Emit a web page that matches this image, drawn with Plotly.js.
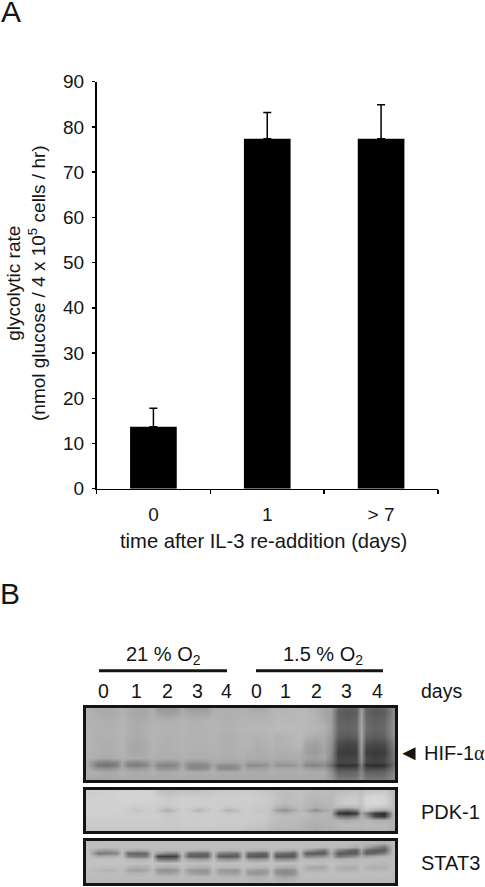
<!DOCTYPE html>
<html>
<head>
<meta charset="utf-8">
<script src="https://cdn.plot.ly/plotly-3.0.1.min.js"></script>
<style>html,body{margin:0;padding:0;background:#fff;}#chart{width:485px;height:887px;}</style>
</head>
<body>
<div id="chart"></div>
<script>
// Panel A values
const timeCategories = ['0', '1', '> 7'];
const glycolyticRate = [13.7, 77.4, 77.4];
const rateErrorUp = [4.1, 5.8, 7.5];
const yTickValues = [0, 10, 20, 30, 40, 50, 60, 70, 80, 90];

// Panel B labels
const laneLabels = ['0', '1', '2', '3', '4', '0', '1', '2', '3', '4'];
const laneLabelPos = [103, 136, 167, 197, 226, 256, 285, 316, 346, 377];

// Panel B blot: position along the gel for each sampled column
const gelColumns = [88, 98,107,116,122, 128,137,146,152, 158,167,176,182, 189,198,207,213, 219,228,237,243,
  248,257,266,271, 276,285,294,300, 306,315,324,331, 338,347,356,361, 366,375,384,393];

// Grey levels (0-255) read from the blots
const hifRows = [707, 712, 720, 728, 736, 744, 752, 758, 762, 765, 768, 772, 776, 781];
const hifGrey = [
 [176, 172,170,172,178, 172,168,170,176, 150,146,150,168, 152,150,156,172, 176,174,174,178, 172,165,170,178, 180,180,182,186, 182,176,166,165, 105,95,100,160, 105,95,100,135],
 [178, 172,170,172,178, 172,166,168,176, 160,158,160,172, 165,163,165,176, 176,175,176,178, 176,174,176,180, 182,182,184,186, 184,178,165,160, 95,90,92,160, 98,88,92,135],
 [178, 176,174,176,180, 174,170,172,178, 176,174,176,180, 176,176,178,180, 178,176,178,180, 180,180,180,182, 184,184,184,186, 184,180,170,158, 100,95,100,165, 105,95,100,140],
 [180, 178,176,178,182, 176,172,176,180, 180,178,178,182, 178,178,180,182, 180,178,180,182, 182,182,184,184, 186,186,186,186, 184,182,178,160, 105,100,105,168, 110,100,105,145],
 [180, 176,176,178,182, 176,170,174,180, 178,176,178,180, 178,178,178,180, 176,174,176,180, 180,178,180,184, 176,180,184,186, 178,172,172,155, 95,90,95,165, 100,92,98,140],
 [180, 176,172,176,182, 170,166,170,180, 178,176,178,180, 178,178,178,180, 178,176,178,180, 180,174,178,182, 176,178,182,184, 165,158,168,145, 75,68,72,160, 78,70,75,125],
 [178, 176,174,176,180, 172,168,172,178, 176,174,176,178, 176,176,176,178, 176,174,176,178, 176,172,174,176, 174,174,176,176, 160,155,165,140, 62,58,62,155, 62,58,60,115],
 [176, 172,170,172,176, 174,172,172,176, 174,172,174,176, 174,174,174,176, 174,172,174,176, 172,172,172,174, 172,172,172,172, 165,160,168,135, 70,70,72,150, 72,62,70,115],
 [168, 130,128,135,168, 140,138,145,168, 152,148,152,170, 152,150,155,170, 168,165,165,172, 158,158,162,170, 160,160,165,170, 148,148,152,125, 70,70,72,140, 70,65,70,110],
 [164, 118,115,125,164, 128,125,135,164, 135,130,138,166, 135,132,138,166, 140,138,145,168, 140,138,145,166, 148,145,150,166, 135,132,140,110, 50,48,52,125, 48,45,50,105],
 [172, 145,140,150,170, 155,150,158,172, 148,142,150,172, 138,135,142,172, 138,134,142,172, 158,158,162,172, 168,165,168,172, 158,154,158,130, 75,72,76,125, 72,70,74,115],
 [176, 172,170,172,178, 172,170,172,176, 170,170,172,176, 172,172,172,176, 172,172,172,176, 172,170,172,176, 172,172,172,176, 172,170,172,145, 100,100,105,135, 100,98,100,130],
 [172, 170,168,170,174, 170,170,170,174, 170,170,170,174, 170,170,170,174, 170,170,170,172, 170,170,170,172, 170,170,170,172, 170,170,170,150, 112,110,112,140, 110,108,110,135],
 [165, 160,165,168,170, 172,172,172,172, 172,172,172,172, 172,172,172,172, 172,172,172,172, 172,172,172,172, 172,172,172,172, 172,172,172,160, 135,130,132,150, 130,128,130,140]
];

const pdkRows = [791, 797, 803, 807, 810, 813, 816, 820, 825, 830];
const pdkGrey = [
 [205, 205,206,208,210, 210,212,212,208, 195,188,190,195, 192,192,196,200, 200,202,202,204, 204,200,196,196, 192,188,192,192, 190,186,188,185, 188,190,192,190, 196,200,200,185],
 [207, 208,208,210,212, 212,212,210,210, 206,200,202,205, 204,204,204,206, 205,205,205,206, 206,204,202,200, 196,188,190,192, 186,184,186,185, 196,200,202,195, 212,214,212,190],
 [208, 208,208,208,210, 210,208,208,208, 205,204,205,208, 206,206,206,206, 204,205,205,205, 205,203,202,198, 192,186,190,190, 184,180,184,184, 198,204,204,195, 214,216,212,190],
 [208, 208,208,208,208, 206,203,206,206, 202,195,202,206, 205,198,203,206, 204,198,202,204, 204,200,200,196, 180,170,182,188, 182,172,180,182, 185,180,185,190, 206,200,198,188],
 [207, 207,207,208,208, 205,195,203,205, 195,175,195,205, 202,180,195,205, 198,178,190,202, 203,195,198,192, 162,145,170,186, 172,140,165,176, 120,105,125,180, 196,170,160,185],
 [207, 207,207,207,207, 205,203,205,205, 202,195,202,205, 204,200,203,205, 203,198,200,203, 203,200,200,194, 182,175,185,188, 186,175,182,178, 55,40,60,165, 130,60,45,175],
 [205, 206,206,206,206, 205,205,205,205, 205,200,203,205, 205,203,205,205, 203,203,203,204, 203,202,200,194, 190,188,188,188, 186,180,182,176, 120,105,125,175, 150,70,55,178],
 [203, 204,205,205,205, 204,204,204,204, 203,200,202,204, 204,203,204,204, 203,203,203,203, 202,200,198,192, 188,186,186,184, 182,178,180,178, 178,168,178,180, 185,175,175,176],
 [202, 203,203,203,204, 202,202,202,203, 202,200,200,203, 203,203,203,203, 202,202,202,202, 200,198,196,190, 186,186,184,182, 178,172,178,178, 184,186,186,182, 186,185,186,178],
 [198, 198,198,198,198, 198,198,198,198, 196,196,196,198, 198,198,198,196, 196,196,196,194, 192,190,188,184, 182,182,180,178, 176,172,175,175, 178,180,180,178, 180,180,182,172]
];

const statRows = [843, 847, 850, 853, 856, 859, 863, 867, 870, 873, 877, 883];
const statGrey = [
 [190, 190,190,190,190, 190,190,190,190, 190,190,190,190, 190,190,190,190, 190,190,190,190, 190,190,190,190, 190,190,190,190, 188,188,188,188, 188,188,186,184, 182,180,174,188],
 [190, 190,188,188,190, 190,190,190,190, 190,190,190,190, 190,190,190,190, 190,190,190,190, 190,190,190,190, 190,190,190,190, 188,186,180,188, 182,180,167,182, 162,137,112,188],
 [190, 160,155,165,190, 172,167,170,190, 187,182,182,190, 182,177,177,190, 184,180,180,190, 180,174,172,190, 177,172,167,188, 157,137,117,182, 132,107,92,162, 107,92,92,186],
 [192, 120,125,135,190, 105,100,105,188, 152,135,130,190, 110,105,105,188, 128,120,115,188, 110,105,100,188, 115,110,100,186, 95,90,95,172, 92,90,92,152, 95,105,125,188],
 [192, 170,174,178,192, 130,120,120,190, 68,64,68,182, 95,90,95,188, 90,85,90,188, 90,85,90,188, 90,85,90,186, 130,135,145,180, 115,130,140,174, 160,170,178,188],
 [192, 192,192,192,194, 184,180,182,192, 125,115,125,186, 165,155,160,190, 155,145,155,190, 155,150,155,188, 145,140,150,188, 182,182,184,188, 180,182,184,186, 188,188,188,188],
 [194, 194,194,194,194, 194,192,192,194, 192,190,192,194, 192,192,192,194, 192,192,192,194, 192,192,192,192, 192,192,192,192, 192,190,188,192, 190,188,184,190, 188,186,182,188],
 [192, 190,188,190,192, 180,172,176,192, 178,172,178,192, 180,176,176,192, 184,182,182,192, 186,184,182,192, 178,172,172,192, 174,166,166,192, 174,170,174,190, 178,174,176,190],
 [190, 182,176,182,190, 165,158,165,188, 148,142,150,186, 152,150,148,188, 155,150,150,188, 160,155,155,188, 148,138,148,188, 178,174,178,190, 180,176,178,190, 184,182,182,188],
 [190, 188,187,188,190, 182,180,182,190, 165,160,166,188, 165,158,155,188, 165,160,160,188, 155,146,155,188, 148,135,145,188, 188,188,190,190, 190,188,190,190, 190,190,190,188],
 [188, 188,188,188,188, 188,188,188,188, 186,186,186,188, 186,186,186,188, 186,184,184,188, 180,176,180,188, 174,165,174,188, 188,188,188,188, 188,188,188,188, 188,188,188,186],
 [184, 184,184,184,184, 184,184,184,184, 184,184,184,184, 184,184,184,184, 184,184,184,184, 184,184,184,184, 184,184,184,184, 184,184,184,184, 184,184,184,184, 184,184,184,182]
];

const W = 485, H = 887;
const FONT = 'Liberation Sans, Arial, sans-serif';
const INK = '#151515';
const px = v => v / W;
const py = v => 1 - v / H;

const greyScale = [[0, '#000000'], [1, '#ffffff']];
function blot(rows, grey, n) {
  return {
    type: 'heatmap', x: gelColumns, y: rows, z: grey,
    xaxis: 'x' + n, yaxis: 'y' + n, zmin: 0, zmax: 255, zsmooth: 'best',
    colorscale: greyScale, showscale: false, hoverinfo: 'skip'
  };
}

const traces = [
  {
    type: 'bar', x: timeCategories, y: glycolyticRate, width: 0.41,
    marker: {color: '#000000'}, hoverinfo: 'x+y',
    error_y: {type: 'data', symmetric: false, array: rateErrorUp, arrayminus: [0, 0, 0],
      color: '#000000', thickness: 1.5, width: 4}
  },
  blot(hifRows, hifGrey, 2),
  blot(pdkRows, pdkGrey, 3),
  blot(statRows, statGrey, 4)
];

function frameAxes(xKey, yKey, top, bottom) {
  const out = {};
  out[xKey] = {domain: [px(86), px(395)], range: [86, 395], anchor: yKey.replace('axis', ''),
    showline: true, mirror: true, linewidth: 3, linecolor: '#141414',
    showticklabels: false, ticks: '', showgrid: false, zeroline: false, fixedrange: true};
  out[yKey] = {domain: [py(bottom), py(top)], range: [bottom, top], anchor: xKey.replace('axis', ''),
    showline: true, mirror: true, linewidth: 3, linecolor: '#141414',
    showticklabels: false, ticks: '', showgrid: false, zeroline: false, fixedrange: true};
  return out;
}

function label(text, x, y, size, extra) {
  return Object.assign({text, x: px(x), y: py(y), xref: 'paper', yref: 'paper',
    showarrow: false, xanchor: 'center', yanchor: 'middle',
    font: {family: FONT, size, color: INK}}, extra || {});
}

const annotations = [
  label('A', 11, 11, 30),
  label('B', 10, 593, 30),
  label('glycolytic rate<br>(nmol glucose / 4 x 10<sup>5</sup> cells / hr)', 26, 283, 19, {textangle: -90}),
  label('time after IL-3 re-addition (days)', 263, 541, 20.2),
  label('21 % O<sub>2</sub>', 163, 655, 20),
  label('1.5 % O<sub>2</sub>', 323, 655, 20),
  label('days', 441, 691, 19.5),
  label('◄', 409, 752, 22),
  label('HIF-1<span style="font-family:Liberation Serif">α</span>', 454, 753, 20),
  label('PDK-1', 450, 812, 20),
  label('STAT3', 450, 863, 20)
].concat(laneLabels.map((t, i) => label(t, laneLabelPos[i], 691, 19.5)));

const shapes = [[99, 227], [256, 383]].map(([a, b]) => ({
  type: 'line', xref: 'paper', yref: 'paper', x0: px(a), x1: px(b), y0: py(670.7), y1: py(670.7),
  line: {color: '#141414', width: 3}
}));

const layout = Object.assign({
  width: W, height: H, margin: {l: 0, r: 0, t: 0, b: 0, pad: 0},
  paper_bgcolor: '#ffffff', plot_bgcolor: '#ffffff', showlegend: false,
  font: {family: FONT, color: INK},
  xaxis: {domain: [px(96.5), px(438)], range: [-0.5, 2.5], type: 'category',
    tickson: 'boundaries', ticks: 'outside', ticklen: 4, tickwidth: 1.5, tickcolor: '#000',
    showline: true, linewidth: 1.5, linecolor: '#000', showgrid: false, zeroline: false,
    tickfont: {family: FONT, size: 19, color: INK}, ticklabelstandoff: 8,
    automargin: false, fixedrange: true},
  yaxis: {domain: [py(488.7), py(81.7)], range: [0, 90], tickvals: yTickValues,
    ticks: 'outside', ticklen: 3, tickwidth: 1.5, tickcolor: '#000',
    showline: true, linewidth: 1.5, linecolor: '#000', showgrid: false, zeroline: false,
    tickfont: {family: FONT, size: 19, color: INK}, ticklabelstandoff: 4,
    automargin: false, fixedrange: true},
  annotations, shapes
},
  frameAxes('xaxis2', 'yaxis2', 708, 780),
  frameAxes('xaxis3', 'yaxis3', 790, 831),
  frameAxes('xaxis4', 'yaxis4', 841, 883)
);

Plotly.newPlot('chart', traces, layout, {displayModeBar: false, staticPlot: true});
</script>
</body>
</html>
